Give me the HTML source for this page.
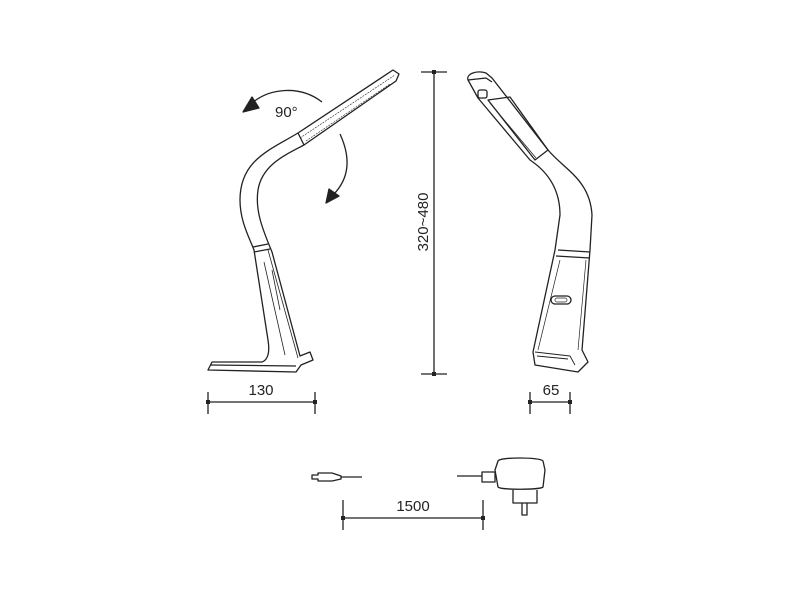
<!DOCTYPE html>
<html><head><style>html,body{margin:0;padding:0;background:#fff}</style></head><body>
<svg width="800" height="600" viewBox="0 0 800 600" xmlns="http://www.w3.org/2000/svg" font-family="Liberation Sans, sans-serif">
<g fill="none" stroke="#222" stroke-width="1.3" stroke-linejoin="round">
<!-- left lamp -->
<path d="M298,133 L393,70 L399,74 L396,81 L304,145 Z"/>
<path d="M300,138 L395,75 M306,141 L390,84" stroke-width="0.6" stroke-dasharray="2,1"/>
<path d="M298,133 C270,150 240,160 240,200 C240,220 248,235 254,250 L268,340 C270,352 268,360 262,362 L212,362 L208,370 L296,372 L301,365 L313,360 L310,352 L300,356 L272,252 C262,228 255,210 258,190 C262,165 285,155 304,145"/>
<path d="M253,247 L268,244 M254,252 L270,249"/>
<path d="M268,250 L298,358 M264,262 L285,355 M272,270 L280,310" stroke-width="0.8"/>
<path d="M210,365 L296,366"/>
<!-- arrows -->
<path d="M322,102 C300,85 270,88 252,103"/>
<path d="M243,112 L252,97 L259,108 Z" fill="#222"/>
<path d="M340,134 C352,160 348,180 333,195"/>
<path d="M326,203 L329,189 L339,196 Z" fill="#222"/>
<!-- right lamp -->
<path d="M468,80 C466,74 476,70 486,73 L492,78 L548,150 C565,170 590,180 592,215 L590,250 L582,350 L588,362 L578,372 L535,365 L533,352 L555,250 L560,215 C560,190 548,172 530,160 L478,98 Z"/>
<path d="M468,80 L486,78 L492,82"/>
<rect x="478" y="90" width="9" height="8" rx="2"/>
<path d="M488,100 L510,97 L548,150 L535,160 Z"/>
<path d="M490,103 L536,158" stroke-width="0.8"/>
<path d="M558,250 L590,252 M556,256 L590,258"/>
<path d="M560,260 L538,350 M586,260 L578,350" stroke-width="0.7"/>
<rect x="551" y="296" width="20" height="8" rx="4"/>
<rect x="555" y="298" width="12" height="4" rx="2" stroke-width="0.7"/>
<path d="M535,352 L570,356 L575,365 M537,356 L568,359" stroke-width="0.9"/>
<!-- vertical dimension -->
<path d="M434,72 L434,374 M421,72 L447,72 M421,374 L447,374"/>
<!-- horizontal dims -->
<path d="M208,402 L315,402 M208,392 L208,414 M315,392 L315,414"/>
<path d="M530,402 L570,402 M530,392 L530,414 M570,392 L570,414"/>
<path d="M343,518 L483,518 M343,500 L343,530 M483,500 L483,530"/>
<!-- plug -->
<path d="M312,475 L318,475 L318,473 L332,473 L341,476 L341,479 L332,481 L318,481 L318,479 L312,479 Z"/>
<path d="M341,477 L362,477"/>
<!-- adapter -->
<path d="M457,476 L482,476 M482,472 L495,472 L495,482 L482,482 Z"/>
<path d="M495,470 L498,461 C500,457 540,457 543,461 L545,470 L543,487 C540,490 500,490 498,487 Z"/>
<path d="M513,490 L513,503 L537,503 L537,490 M522,503 L522,515 L527,515 L527,503"/>
</g>
<g fill="#222">
<rect x="432" y="70" width="4" height="4"/><rect x="432" y="372" width="4" height="4"/>
<rect x="206" y="400" width="4" height="4"/><rect x="313" y="400" width="4" height="4"/>
<rect x="528" y="400" width="4" height="4"/><rect x="568" y="400" width="4" height="4"/>
<rect x="341" y="516" width="4" height="4"/><rect x="481" y="516" width="4" height="4"/>
</g>
<g fill="#222" font-size="15">
<text x="275" y="117">90°</text>
<text x="261" y="395" text-anchor="middle">130</text>
<text x="551" y="395" text-anchor="middle">65</text>
<text x="413" y="511" text-anchor="middle">1500</text>
<text x="0" y="0" transform="translate(428,222) rotate(-90)" text-anchor="middle">320~480</text>
</g>
</svg>
</body></html>
